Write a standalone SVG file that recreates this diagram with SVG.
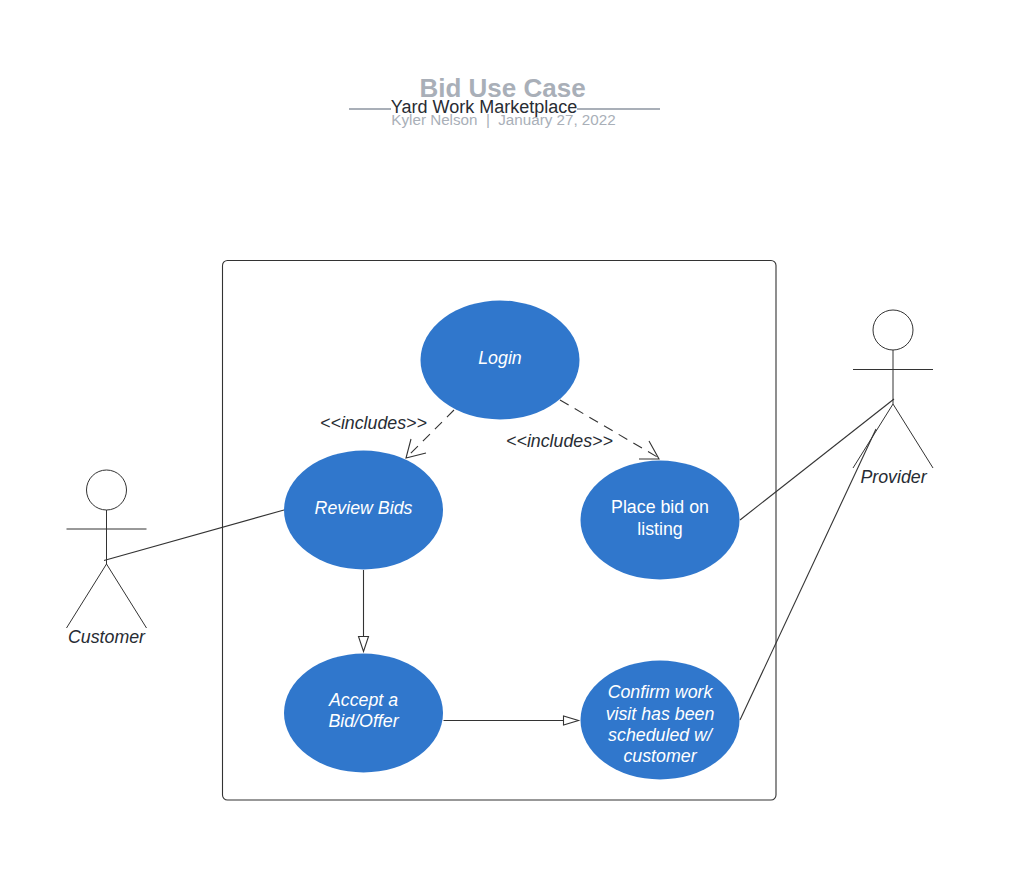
<svg xmlns="http://www.w3.org/2000/svg" width="1027" height="893" viewBox="0 0 1027 893">
<style>
text{font-family:"Liberation Sans",Arial,sans-serif}
.uc{fill:#3077cc}
.ut{fill:#fff;font-size:17.800px;text-anchor:middle}
.i{font-style:italic}
.lbl{fill:#282c33;font-size:17.800px;font-style:italic;text-anchor:middle}
.ln{fill:none;stroke:#333;stroke-width:1.100}
.act{fill:none;stroke:#333;stroke-width:1}
.hd{fill:#fff;stroke:#333;stroke-width:1.100}
.rule{stroke:#a9afb8;stroke-width:2}
</style>
<rect width="1027" height="893" fill="#fff"/>
<g id="title">
<text x="502.500" y="97" font-size="26" font-weight="700" fill="#a9afb8" text-anchor="middle">Bid Use Case</text>
<line class="rule" x1="349" y1="109" x2="391" y2="109"/>
<line class="rule" x1="577" y1="109" x2="660" y2="109"/>
<text x="484" y="113" font-size="18" fill="#282c33" text-anchor="middle">Yard Work Marketplace</text>
<text x="503.500" y="125" font-size="15.200" fill="#a9afb8" text-anchor="middle" xml:space="preserve">Kyler Nelson  |  January 27, 2022</text>
</g>
<g id="system-boundary"><rect x="222.500" y="260.500" width="553.500" height="539.500" rx="5" fill="#fff" stroke="#333" stroke-width="1.100"/></g>
<g id="connectors">
<line class="ln" x1="104" y1="560.500" x2="284" y2="510"/>
<line class="ln" x1="740" y1="520" x2="894" y2="399"/>
<line class="ln" x1="740" y1="720" x2="876" y2="429"/>
<line class="ln" x1="363.500" y1="570" x2="363.500" y2="636"/>
<polygon class="hd" points="358.500,636.500 368.500,636.500 363.500,651.500"/>
<line class="ln" x1="443.500" y1="720.500" x2="563" y2="720.500"/>
<polygon class="hd" points="563.500,716 563.500,725 578.500,720.500"/>
<line class="ln" stroke-dasharray="10 7" x1="454" y1="410" x2="407" y2="457"/>
<polyline class="ln" points="411,439 406,458 426,453"/>
<line class="ln" stroke-dasharray="10 7" x1="560" y1="400" x2="659" y2="458"/>
<polyline class="ln" points="649,441 659,459 639,459"/>
</g>
<g id="login"><ellipse class="uc" cx="500" cy="360" rx="79.500" ry="59.500"/><text class="ut i" x="500" y="364">Login</text></g>
<g id="review-bids"><ellipse class="uc" cx="363.500" cy="510" rx="79.500" ry="59.500"/><text class="ut i" x="363.500" y="514">Review Bids</text></g>
<g id="place-bid"><ellipse class="uc" cx="660" cy="520" rx="79.500" ry="59.500"/><text class="ut" x="660" y="513">Place bid on</text><text class="ut" x="660" y="534.500">listing</text></g>
<g id="accept-bid"><ellipse class="uc" cx="363.500" cy="713" rx="79.500" ry="59.500"/><text class="ut i" x="363.500" y="706">Accept a</text><text class="ut i" x="363.500" y="727">Bid/Offer</text></g>
<g id="confirm-visit"><ellipse class="uc" cx="660" cy="720" rx="79.500" ry="59.500"/><text class="ut i" x="660" y="698">Confirm work</text><text class="ut i" x="660" y="719.500">visit has been</text><text class="ut i" x="660" y="740.500">scheduled w/</text><text class="ut i" x="660" y="762">customer</text></g>
<g id="includes-left"><text class="lbl" x="373.500" y="428.500">&lt;&lt;includes&gt;&gt;</text></g>
<g id="includes-right"><text class="lbl" x="559.500" y="447">&lt;&lt;includes&gt;&gt;</text></g>
<g id="customer"><circle class="act" cx="106.500" cy="490" r="20"/><path class="act" d="M106.500 510V564M66.500 529H146.500M106.500 564L66.500 628M106.500 564L146.500 628"/><text class="lbl" x="106.500" y="643">Customer</text></g>
<g id="provider"><circle class="act" cx="893" cy="330" r="20"/><path class="act" d="M893 350V404M853 369.500H933M893 404L853 468M893 404L933 468"/><text class="lbl" x="893.500" y="483">Provider</text></g>
</svg>
